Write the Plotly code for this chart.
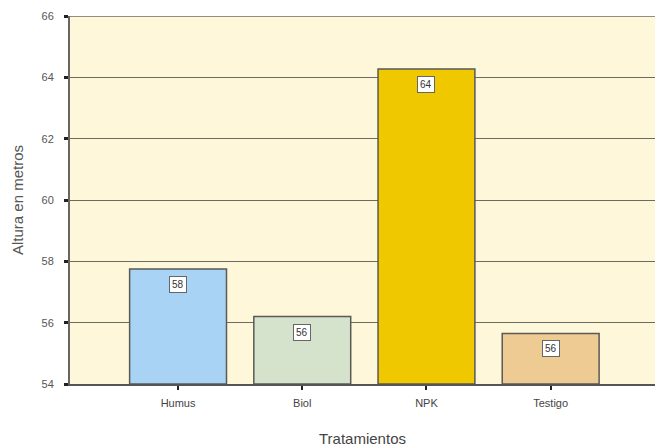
import plotly.graph_objects as go

# Treatments and mean plant height (m)
tratamientos = ["Humus", "Biol", "NPK", "Testigo"]
altura = [57.75, 56.2, 64.27, 55.65]
colores = ["#A9D3F4", "#D5E3CD", "#EFC800", "#EECB92"]
y_ticks = [54, 56, 58, 60, 62, 64, 66]
y_base = 54

fig = go.Figure()
fig.add_trace(go.Bar(
    x=tratamientos,
    y=[v - y_base for v in altura],
    base=y_base,
    width=0.78,
    marker=dict(color=colores, line=dict(color="#5a5a55", width=1.5)),
    customdata=altura,
    hovertemplate="%{x}: %{customdata}<extra></extra>",
))

for cat, v in zip(tratamientos, altura):
    fig.add_annotation(
        x=cat, y=v, yref="y", xref="x",
        text=f"{v:.0f}",
        showarrow=False,
        yanchor="top", yshift=-7,
        font=dict(size=10, color="#333333", family="Liberation Sans"),
        bgcolor="white", bordercolor="#666666", borderwidth=1, borderpad=2,
    )

# top frame line at the upper limit of the axis
fig.add_shape(type="line", xref="paper", yref="y", x0=0, x1=1, y0=66, y1=66,
              line=dict(color="#6b6b60", width=1.5))

fig.update_layout(
    width=655, height=447,
    margin=dict(l=70, r=0, t=16, b=63),
    paper_bgcolor="white",
    plot_bgcolor="#FEF7DA",
    showlegend=False,
    font=dict(family="Liberation Sans", color="#555555"),
)
fig.update_xaxes(
    range=[-0.87, 3.84],
    showgrid=False,
    ticks="outside", ticklen=4, tickwidth=2, tickcolor="#222222",
    ticklabelstandoff=4,
    tickfont=dict(size=11, color="#444444"),
    showline=True, linecolor="#555555", linewidth=1.5,
    title=dict(text="Tratamientos", font=dict(size=15, color="#444444"), standoff=26),
)
fig.update_yaxes(
    range=[54, 66],
    tickvals=y_ticks,
    ticktext=[str(t) for t in y_ticks],
    showgrid=True, gridcolor="#6b6b60", gridwidth=1.3,
    ticks="outside", ticklen=4, tickwidth=3, tickcolor="#222222",
    ticklabelstandoff=8,
    tickfont=dict(size=11, color="#555555"),
    showline=True, linecolor="#666666", linewidth=2,
    zeroline=False,
    title=dict(text="Altura en metros", font=dict(size=15, color="#555555"), standoff=14),
)

fig.write_html("out.html")
